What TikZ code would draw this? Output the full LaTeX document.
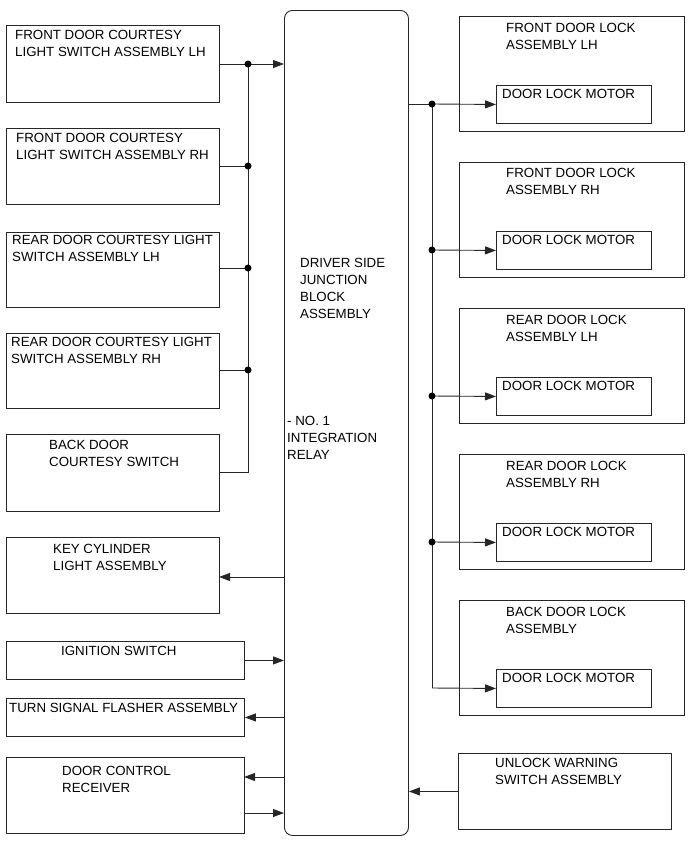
\documentclass[tikz,border=0pt]{standalone}
\usepackage{fontspec}
\setmainfont{Liberation Sans}
\usetikzlibrary{arrows.meta}
\tikzset{
  box/.style={draw=black!85, line width=0.9pt, rectangle, inner sep=0pt, anchor=north west},
  lbl/.style={anchor=north west, inner sep=0pt, align=left, font=\fontsize{13.3}{17}\selectfont},
  wire/.style={draw=black!85, line width=0.9pt},
  arr/.style={wire, -{Triangle[length=11pt,width=8pt]}},
  jdot/.style={circle, fill=black, inner sep=0pt, minimum size=7pt}
}
\begin{document}
\begin{tikzpicture}[x=1pt,y=-1pt]
\useasboundingbox (0,0) rectangle (691,854);
% central block
\node[box, rounded corners=8pt, minimum width=124pt, minimum height=825pt] (JB) at (284,10) {};
\node[lbl] (jbt1) at (300,258) {DRIVER SIDE\\JUNCTION\\BLOCK\\ASSEMBLY};
\node[lbl] (jbt2) at (287,416) {- NO. 1\\INTEGRATION\\RELAY};
% left boxes
\node[box, minimum width=213pt, minimum height=77pt] (L1) at (6,25) {};
\node[lbl] (t1) at (15,30) {FRONT DOOR COURTESY\\LIGHT SWITCH ASSEMBLY LH};
\node[box, minimum width=213pt, minimum height=76pt] (L2) at (6,128) {};
\node[lbl] (t2) at (16,133) {FRONT DOOR COURTESY\\LIGHT SWITCH ASSEMBLY RH};
\node[box, minimum width=213pt, minimum height=75pt] (L3) at (6,232) {};
\node[lbl] (t3) at (12,235) {REAR DOOR COURTESY LIGHT\\SWITCH ASSEMBLY LH};
\node[box, minimum width=213pt, minimum height=75pt] (L4) at (6,333) {};
\node[lbl] (t4) at (11,337) {REAR DOOR COURTESY LIGHT\\SWITCH ASSEMBLY RH};
\node[box, minimum width=213pt, minimum height=77pt] (L5) at (6,434) {};
\node[lbl] (t5) at (49,440) {BACK DOOR\\COURTESY SWITCH};
\node[box, minimum width=213pt, minimum height=76pt] (L6) at (6,537) {};
\node[lbl] (t6) at (53,544) {KEY CYLINDER\\LIGHT ASSEMBLY};
\node[box, minimum width=238pt, minimum height=38pt] (L7) at (6,641) {};
\node[lbl] (t7) at (61,646) {IGNITION SWITCH};
\node[box, minimum width=238pt, minimum height=38pt] (L8) at (6,698) {};
\node[lbl] (t8) at (9,703) {TURN SIGNAL FLASHER ASSEMBLY};
\node[box, minimum width=238pt, minimum height=76pt] (L9) at (6,757) {};
\node[lbl] (t9) at (62,766) {DOOR CONTROL\\RECEIVER};
% right boxes
\node[box, minimum width=225pt, minimum height=115pt] (R1) at (459,16) {};
\node[lbl] (rt1) at (506,23) {FRONT DOOR LOCK\\ASSEMBLY LH};
\node[box, minimum width=155pt, minimum height=38pt] (M1) at (496,85) {};
\node[lbl] (mt1) at (502,89) {DOOR LOCK MOTOR};
\node[box, minimum width=225pt, minimum height=115pt] (R2) at (459,162) {};
\node[lbl] (rt2) at (506,168) {FRONT DOOR LOCK\\ASSEMBLY RH};
\node[box, minimum width=155pt, minimum height=38pt] (M2) at (496,231) {};
\node[lbl] (mt2) at (502,235) {DOOR LOCK MOTOR};
\node[box, minimum width=225pt, minimum height=115pt] (R3) at (459,308) {};
\node[lbl] (rt3) at (506,315) {REAR DOOR LOCK\\ASSEMBLY LH};
\node[box, minimum width=155pt, minimum height=38pt] (M3) at (496,377) {};
\node[lbl] (mt3) at (502,381) {DOOR LOCK MOTOR};
\node[box, minimum width=225pt, minimum height=115pt] (R4) at (459,454) {};
\node[lbl] (rt4) at (506,461) {REAR DOOR LOCK\\ASSEMBLY RH};
\node[box, minimum width=155pt, minimum height=38pt] (M4) at (496,523) {};
\node[lbl] (mt4) at (502,527) {DOOR LOCK MOTOR};
\node[box, minimum width=225pt, minimum height=115pt] (R5) at (459,600) {};
\node[lbl] (rt5) at (506,607) {BACK DOOR LOCK\\ASSEMBLY};
\node[box, minimum width=155pt, minimum height=38pt] (M5) at (496,669) {};
\node[lbl] (mt5) at (502,673) {DOOR LOCK MOTOR};
\node[box, minimum width=213pt, minimum height=76pt] (UW) at (458,753) {};
\node[lbl] (uwt) at (495,758) {UNLOCK WARNING\\SWITCH ASSEMBLY};
% left bus
\coordinate (j1) at (248,64);
\coordinate (j2) at (248,166);
\coordinate (j3) at (248,268);
\coordinate (j4) at (248,370);
\coordinate (jc) at (248,472);
\draw[wire] (j1 -| L1.east) -- (j1);
\draw[arr] (j1) -- (j1 -| JB.west);
\draw[wire] (j1) -- (jc) -- (jc -| L5.east);
\draw[wire] (j2 -| L2.east) -- (j2);
\draw[wire] (j3 -| L3.east) -- (j3);
\draw[wire] (j4 -| L4.east) -- (j4);
\foreach \j in {j1,j2,j3,j4} \node[jdot] at (\j) {};
% left single connectors
\coordinate (a6) at (219,577);
\draw[arr] (a6 -| JB.west) -- (a6);
\draw[arr] (L7.east) -- (L7.east -| JB.west);
\draw[arr] (L8.east -| JB.west) -- (L8.east);
\coordinate (a9a) at (244,777);
\coordinate (a9b) at (244,813);
\draw[arr] (a9a -| JB.west) -- (a9a);
\draw[arr] (a9b) -- (a9b -| JB.west);
% right bus
\coordinate (r1) at (432,104);
\coordinate (r2) at (432,250);
\coordinate (r3) at (432,396);
\coordinate (r4) at (432,542);
\coordinate (r5) at (432,688);
\draw[wire] (r1 -| JB.east) -- (r1);
\draw[wire] (r1) -- (r5);
\draw[arr] (r1) -- (M1.west);
\draw[arr] (r2) -- (M2.west);
\draw[arr] (r3) -- (M3.west);
\draw[arr] (r4) -- (M4.west);
\draw[arr] (r5) -- (M5.west);
\foreach \r in {r1,r2,r3,r4} \node[jdot] at (\r) {};
\draw[arr] (UW.west) -- (UW.west -| JB.east);
\end{tikzpicture}
\end{document}
